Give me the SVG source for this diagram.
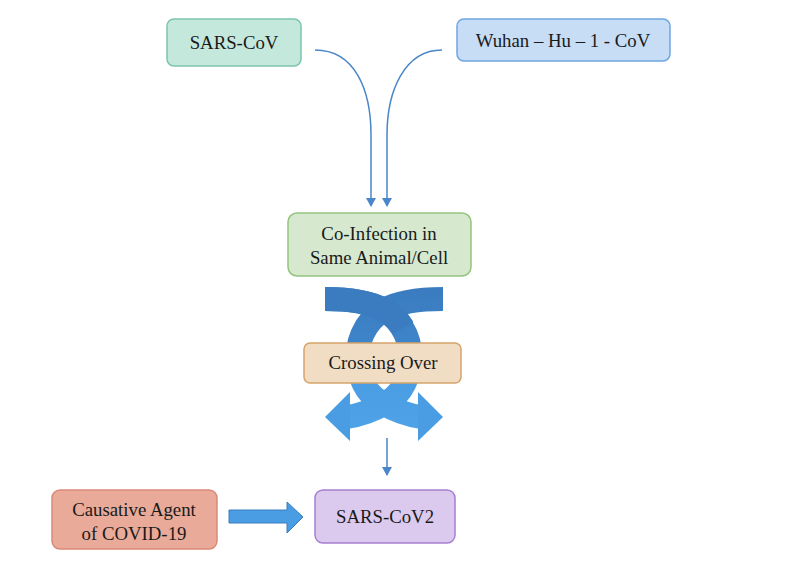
<svg xmlns="http://www.w3.org/2000/svg" width="800" height="574" viewBox="0 0 800 574">
<style>
.t{font-family:"Liberation Serif","Times New Roman",serif;font-size:18.8px;fill:#1a1a1a;text-anchor:middle}
.box{stroke-width:1.5}
.conn{fill:none;stroke:#4a86c8;stroke-width:1.5}
</style>
<defs>
<marker id="ah" markerWidth="10" markerHeight="10" refX="8" refY="5" orient="auto" markerUnits="userSpaceOnUse">
<path d="M0,0 L9,5 L0,10 Z" fill="#4a86c8"/>
</marker>
<linearGradient id="bg" gradientUnits="userSpaceOnUse" x1="0" y1="290" x2="0" y2="440">
<stop offset="0" stop-color="#3a7cbf"/>
<stop offset="0.45" stop-color="#3f86cc"/>
<stop offset="0.6" stop-color="#4a9de2"/>
<stop offset="1" stop-color="#4fa3e8"/>
</linearGradient>
</defs>
<rect width="800" height="574" fill="#ffffff"/>

<g id="connectors">
<path class="conn" d="M315,50 C355,50 371,90 371,135 L371,206" marker-end="url(#ah)"/>
<path class="conn" d="M442,50 C405,50 387,90 387,135 L387,206" marker-end="url(#ah)"/>
<path class="conn" d="M387,438 L387,475" marker-end="url(#ah)"/>
<g id="crossing-arrows">
<path d="M325,299 C352,299 370,302 384,310 C405,322 412,345 410,363 C408,385 396,398 384,404 C372,411 360,415 347,417" fill="none" stroke="url(#bg)" stroke-width="24"/>
<path d="M443,299 C416,299 398,302 384,310 C363,322 356,345 358,363 C360,385 372,398 384,404 C396,411 408,415 421,417" fill="none" stroke="url(#bg)" stroke-width="24"/>
<path d="M325,299 C352,299 370,302 384,310 C393,315 399,321 403,328" fill="none" stroke="#3a7cbf" stroke-width="24"/>
<polygon points="325,417 350,392 350,441" fill="#4a9de2"/>
<polygon points="443,417 418,392 418,441" fill="#4a9de2"/>
</g>
<polygon id="block-arrow" points="229,510 287,510 287,502 303,517 287,533 287,523 229,523" fill="#4a9de2" stroke="#3a7cbf" stroke-width="1"/>
</g>

<g id="sars-cov">
<rect class="box" x="167" y="19" width="134" height="47" rx="7" fill="#c5e8dc" stroke="#7cc4a9"/>
<text class="t" x="234" y="49">SARS-CoV</text>
</g>
<g id="wuhan">
<rect class="box" x="457" y="19" width="213" height="42" rx="7" fill="#c7dcf5" stroke="#6fa6e0"/>
<text class="t" x="563" y="47">Wuhan – Hu – 1 - CoV</text>
</g>
<g id="co-infection">
<rect class="box" x="288" y="213" width="183" height="63" rx="9" fill="#d6e9cf" stroke="#93c47d"/>
<text class="t" x="379" y="240">Co-Infection in</text>
<text class="t" x="379" y="264">Same Animal/Cell</text>
</g>
<g id="crossing-over">
<rect class="box" x="304" y="343" width="157" height="40" rx="6" fill="#f1dcc4" stroke="#d4a46a"/>
<text class="t" x="383" y="369">Crossing Over</text>
</g>
<g id="causative">
<rect class="box" x="52" y="490" width="165" height="59" rx="8" fill="#e9aa99" stroke="#d9897a"/>
<text class="t" x="134" y="516">Causative Agent</text>
<text class="t" x="134" y="540">of COVID-19</text>
</g>
<g id="sars-cov2">
<rect class="box" x="315" y="490" width="140" height="53" rx="8" fill="#dccaee" stroke="#a77fd0"/>
<text class="t" x="385" y="523">SARS-CoV2</text>
</g>
</svg>
